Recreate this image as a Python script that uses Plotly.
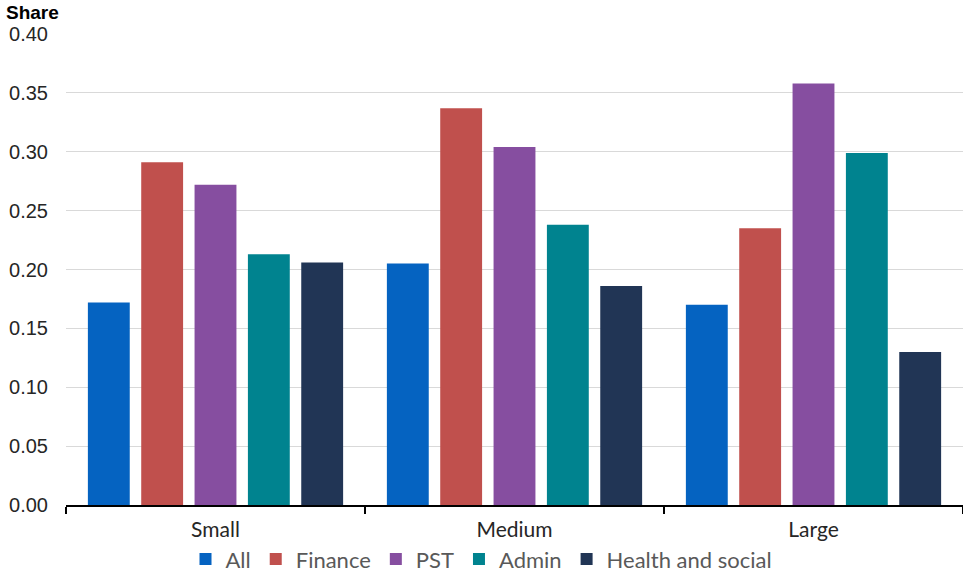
import plotly.graph_objects as go

categories = ["Small", "Medium", "Large"]
series_names = ["All", "Finance", "PST", "Admin", "Health and social"]
all_vals = [0.172, 0.205, 0.170]
finance_vals = [0.291, 0.337, 0.235]
pst_vals = [0.272, 0.304, 0.358]
admin_vals = [0.213, 0.238, 0.299]
health_vals = [0.206, 0.186, 0.130]
colors = ["#0563C1", "#C0504D", "#864EA0", "#00838F", "#213555"]
y_ticks = [0.0, 0.05, 0.10, 0.15, 0.20, 0.25, 0.30, 0.35, 0.40]

values = [all_vals, finance_vals, pst_vals, admin_vals, health_vals]

fig = go.Figure()
for name, vals, col in zip(series_names, values, colors):
    fig.add_trace(go.Bar(x=categories, y=vals, name=name,
                         marker=dict(color=col, line=dict(width=0))))

fig.update_layout(
    width=963, height=572,
    margin=dict(l=66, r=0, t=34, b=67, autoexpand=False),
    paper_bgcolor="white", plot_bgcolor="white",
    barmode="group", bargap=0.108, bargroupgap=0.215,
    showlegend=True,
    legend=dict(orientation="h", xref="container", yref="container",
                x=0.5, xanchor="center", y=0.059, yanchor="top",
                font=dict(family="Lato", size=22, color="#595959"),
                itemwidth=30, traceorder="normal"),
    annotations=[dict(text="<b>Share</b>", xref="paper", yref="paper",
                      x=0, xanchor="left", xshift=-62, y=1, yanchor="middle", yshift=22,
                      showarrow=False,
                      font=dict(family="Liberation Sans", size=19, color="black"))],
)
fig.update_yaxes(range=[0, 0.4], tickvals=y_ticks, tickformat=".2f",
                 showgrid=True, gridcolor="#D9D9D9", gridwidth=1,
                 zeroline=False, showline=False, ticks="",
                 ticklabelstandoff=17,
                 tickfont=dict(family="Liberation Sans", size=20, color="#262626"))
fig.update_xaxes(showline=True, linecolor="black", linewidth=2,
                 ticks="outside", tickson="boundaries", ticklen=7, tickcolor="black",
                 tickwidth=2, showgrid=False, ticklabelstandoff=5,
                 tickfont=dict(family="Lato", size=21, color="#262626"))

fig.write_html("out.html")
